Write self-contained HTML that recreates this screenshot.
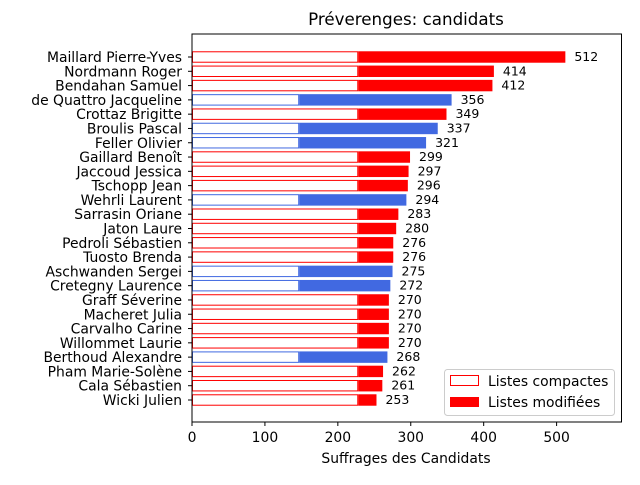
<!DOCTYPE html>
<html><head><meta charset="utf-8"><style>
body{margin:0;background:#fff;font-family:"Liberation Sans","DejaVu Sans",sans-serif}
svg text{font-family:"DejaVu Sans","Liberation Sans",sans-serif}
</style></head><body>
<svg id="c" width="640" height="480" xmlns="http://www.w3.org/2000/svg"></svg>
<script>
const names=["Maillard Pierre-Yves","Nordmann Roger","Bendahan Samuel","de Quattro Jacqueline","Crottaz Brigitte","Broulis Pascal","Feller Olivier","Gaillard Benoît","Jaccoud Jessica","Tschopp Jean","Wehrli Laurent","Sarrasin Oriane","Jaton Laure","Pedroli Sébastien","Tuosto Brenda","Aschwanden Sergei","Cretegny Laurence","Graff Séverine","Macheret Julia","Carvalho Carine","Willommet Laurie","Berthoud Alexandre","Pham Marie-Solène","Cala Sébastien","Wicki Julien"];
const totals=[512,414,412,356,349,337,321,299,297,296,294,283,280,276,276,275,272,270,270,270,270,268,262,261,253];
const party=["r","r","r","b","r","b","b","r","r","r","b","r","r","r","r","b","b","r","r","r","r","b","r","r","r"];
const compactRed=228, compactBlue=147;
const xTicks=[0,100,200,300,400,500];
const NS="http://www.w3.org/2000/svg";
const svg=document.getElementById('c');
const L=192,R=621.5,T=34,B=422,xmax=589;
const X=v=>L+v*(R-L)/xmax;
const step=(400-57)/24;
const Y=i=>57+i*step;
const bh=step*0.8;
function el(t,a,p){const e=document.createElementNS(NS,t);for(const k in a)e.setAttribute(k,a[k]);(p||svg).appendChild(e);return e;}
const title=el('text',{x:406,y:25,'text-anchor':'middle','font-size':16.7});title.textContent="Préverenges: candidats";


names.forEach((n,i)=>{
  const col=party[i]=="r"?"#ff0000":"#4169e1";
  const comp=party[i]=="r"?compactRed:compactBlue;
  const y=Y(i);
  const m=el('rect',{x:X(comp),y:y-bh/2,width:X(totals[i])-X(comp),height:bh,fill:col});
  
  
  const c=el('rect',{x:X(0)+0.5,y:y-bh/2+0.5,width:X(comp)-X(0)-1,height:bh-1,fill:'#fff',stroke:col,'stroke-width':1});
  
  
  const v=el('text',{x:X(totals[i])+9,y:y+4,'font-size':12.5});v.textContent=totals[i];
  
  
  const t=el('text',{x:L-10,y:y+5,'text-anchor':'end','font-size':13.9});t.textContent=n;
  
  
  el('line',{x1:L-4,x2:L,y1:y,y2:y,stroke:'#000'});
});
const frame=el('rect',{x:L,y:T,width:R-L,height:B-T,fill:'none',stroke:'#000','stroke-width':1});


xTicks.forEach(v=>{
  el('line',{x1:X(v),x2:X(v),y1:B,y2:B+4,stroke:'#000'});
  const t=el('text',{x:X(v),y:B+20,'text-anchor':'middle','font-size':13.9});t.textContent=v;
  
  
});
const xl=el('text',{x:406,y:463,'text-anchor':'middle','font-size':13.9});xl.textContent="Suffrages des Candidats";


const lg=el('g',{});


el('rect',{x:444.5,y:369.5,width:170,height:46,rx:3,fill:'#fff','fill-opacity':0.8,stroke:'#ccc'},lg);
el('rect',{x:450.5,y:375.5,width:28,height:10,fill:'#fff',stroke:'#ff0000'},lg);
el('rect',{x:450,y:397,width:29,height:10,fill:'#ff0000'},lg);
const l1=el('text',{x:488,y:386,'font-size':13.9},lg);l1.textContent="Listes compactes";


const l2=el('text',{x:488,y:407,'font-size':13.9},lg);l2.textContent="Listes modifiées";


</script>
</body></html>
